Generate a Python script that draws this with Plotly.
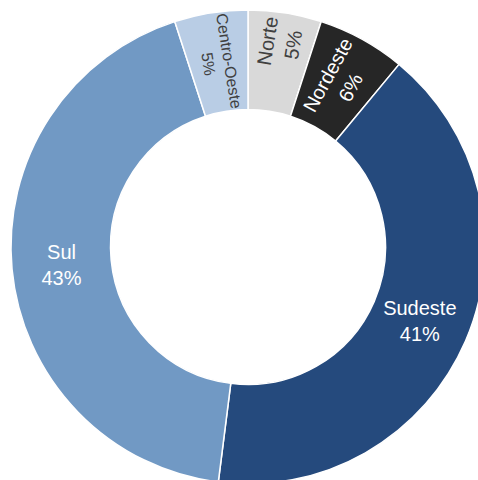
import plotly.graph_objects as go

regions = ["Norte", "Nordeste", "Sudeste", "Sul", "Centro-Oeste"]
shares = [5, 6, 41, 43, 5]
colors = ["#d9d9d9", "#262626", "#254a7d", "#7199c4", "#b9cde5"]
text_colors = ["#404040", "#ffffff", "#ffffff", "#ffffff", "#404040"]
radial_label = [True, True, False, False, True]

W, H = 500, 500
cx, cy_top, r = 248, 247, 237
cy = H - cy_top
dom = dict(x=[(cx - r) / W, (cx + r) / W], y=[(cy - r) / H, (cy + r) / H])
FONT = "Liberation Sans, Arial, sans-serif"
tpl = "%{label}<br>%{percent:.0%}"

common = dict(labels=regions, values=shares, sort=False, direction="clockwise",
              rotation=0, hole=0.58, textposition="inside", domain=dom,
              showlegend=False, hoverinfo="label+percent")

fig = go.Figure()
fig.add_trace(go.Pie(
    **common,
    marker=dict(colors=colors, line=dict(color="white", width=1.5)),
    texttemplate=[tpl if rl else "" for rl in radial_label],
    insidetextorientation="radial",
    textfont=dict(family=FONT, size=20, color=text_colors),
))
fig.add_trace(go.Pie(
    **common,
    marker=dict(colors=["rgba(0,0,0,0)"] * len(regions), line=dict(width=0)),
    texttemplate=["" if rl else tpl for rl in radial_label],
    insidetextorientation="horizontal",
    textfont=dict(family=FONT, size=20, color=text_colors),
))
fig.update_layout(width=W, height=H, margin=dict(l=0, r=0, t=0, b=0),
                  paper_bgcolor="white", plot_bgcolor="white")
fig.write_html("out.html", config={"displayModeBar": False},
               post_script="document.body.style.margin='0';document.body.style.overflow='hidden';document.documentElement.style.overflow='hidden';")
